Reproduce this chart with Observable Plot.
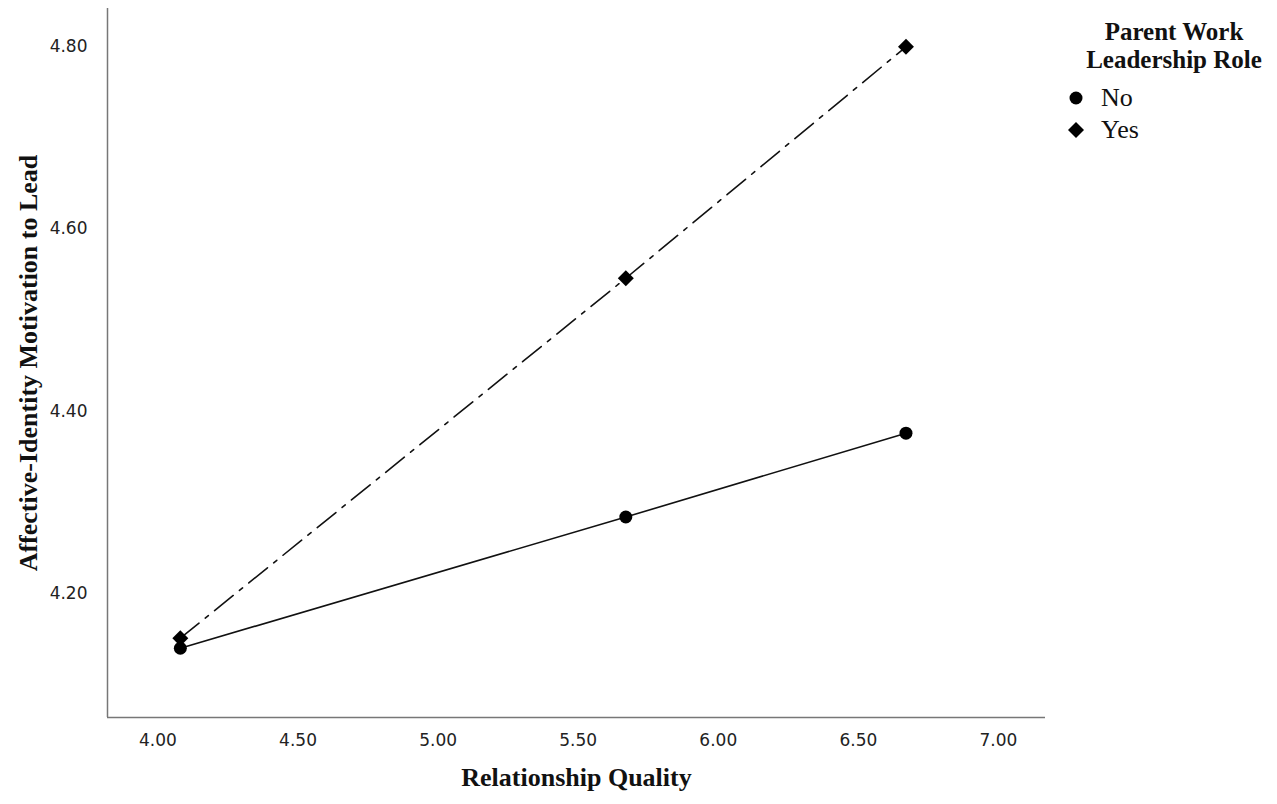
<!DOCTYPE html>
<html>
<head>
<meta charset="utf-8">
<script src="https://cdn.jsdelivr.net/npm/d3@7"></script>
<script src="https://cdn.jsdelivr.net/npm/@observablehq/plot@0.6"></script>
<style>
  html, body { margin: 0; padding: 0; background: #fff; }
  #wrap { position: relative; width: 1277px; height: 804px; }
  #legend { position: absolute; left: 0; top: 0; font-family: "Liberation Serif", "Times New Roman", serif; color: #111; }
  #legend .title { position: absolute; left: 1064px; top: 18px; width: 220px; font-weight: bold; font-size: 25px; line-height: 28px; text-align: center; }
  #legend .sym { position: absolute; }
  #legend .lab { position: absolute; font-size: 26px; line-height: 30px; }
</style>
</head>
<body>
<div id="wrap">
  <div id="chart"></div>
  <div id="legend">
    <div class="title">Parent Work<br>Leadership Role</div>
  </div>
</div>
<script>
const xValues = [4.08, 5.67, 6.67];
const groups = ["No", "Yes"];
const noValues = [4.140, 4.284, 4.376];
const yesValues = [4.151, 4.546, 4.800];
const xTicks = [4.0, 4.5, 5.0, 5.5, 6.0, 6.5, 7.0];
const yTicks = [4.2, 4.4, 4.6, 4.8];
const xTitle = "Relationship Quality";
const yTitle = "Affective-Identity Motivation to Lead";

const rows = [];
xValues.forEach((x, i) => {
  rows.push({group: groups[0], x, y: noValues[i]});
  rows.push({group: groups[1], x, y: yesValues[i]});
});
const noRows = rows.filter(d => d.group === "No");
const yesRows = rows.filter(d => d.group === "Yes");

const xDomain = [3.82, 7.168];
const yDomain = [4.064, 4.842];

const chart = Plot.plot({
  width: 1277,
  height: 804,
  marginLeft: 107,
  marginRight: 232,
  marginTop: 8,
  marginBottom: 87,
  style: {background: "white"},
  x: {domain: xDomain},
  y: {domain: yDomain},
  marks: [
    Plot.axisX({ticks: xTicks, tickFormat: d3.format(".2f"), tickSize: 0, tickPadding: 16, label: null,
      fontSize: 17, fontFamily: "DejaVu Sans, Verdana, sans-serif", fill: "#222"}),
    Plot.axisY({ticks: yTicks, tickFormat: d3.format(".2f"), tickSize: 0, tickPadding: 20, label: null,
      fontSize: 17, fontFamily: "DejaVu Sans, Verdana, sans-serif", fill: "#222"}),
    Plot.ruleX([xDomain[0]], {stroke: "#777", strokeWidth: 1.5}),
    Plot.ruleY([yDomain[0]], {stroke: "#777", strokeWidth: 1.5}),
    Plot.line(noRows, {x: "x", y: "y", stroke: "#111", strokeWidth: 1.6}),
    Plot.line(yesRows, {x: "x", y: "y", stroke: "#111", strokeWidth: 1.6, strokeDasharray: "24,8,4,8"}),
    Plot.dot(noRows, {x: "x", y: "y", r: 6.5, fill: "black", symbol: "circle"}),
    Plot.dot(yesRows, {x: "x", y: "y", r: 7.2, fill: "black", symbol: "diamond2"}),
    Plot.text([xTitle], {frameAnchor: "bottom", dy: 68, fontSize: 26, fontWeight: "bold",
      fontFamily: "Liberation Serif, Times New Roman, serif", fill: "#111"}),
    Plot.text([yTitle], {frameAnchor: "left", textAnchor: "middle", dx: -79, rotate: -90, fontSize: 26, fontWeight: "bold",
      fontFamily: "Liberation Serif, Times New Roman, serif", fill: "#111"})
  ]
});
document.getElementById("chart").appendChild(chart);

// legend built from groups
const legend = document.getElementById("legend");
const symbolFor = {No: d3.symbolCircle, Yes: d3.symbolDiamond2};
const rFor = {No: 6.5, Yes: 7.2};
const yFor = {No: 98, Yes: 130};
groups.forEach(g => {
  const s = d3.create("svg").attr("class", "sym").attr("width", 20).attr("height", 20)
    .style("left", (1076 - 10) + "px").style("top", (yFor[g] - 10) + "px");
  s.append("path").attr("transform", "translate(10,10)")
    .attr("d", d3.symbol(symbolFor[g], Math.PI * rFor[g] * rFor[g])()).attr("fill", "black");
  legend.appendChild(s.node());
  const t = document.createElement("div");
  t.className = "lab";
  t.style.left = "1101px";
  t.style.top = (yFor[g] - 15) + "px";
  t.textContent = g;
  legend.appendChild(t);
});
</script>
</body>
</html>
